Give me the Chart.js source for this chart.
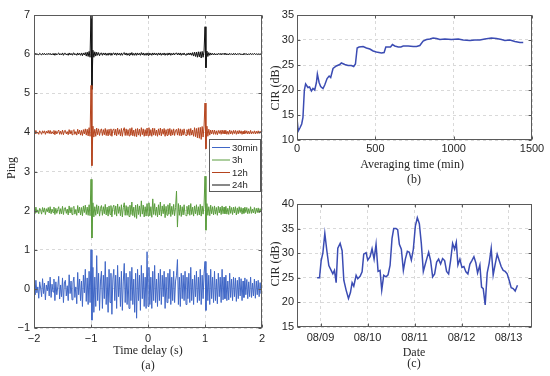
<!DOCTYPE html>
<html><head><meta charset="utf-8">
<script src="https://cdn.jsdelivr.net/npm/chart.js@4.4.0/dist/chart.umd.min.js"></script>
<style>html,body{margin:0;padding:0;background:#fff;width:550px;height:376px;overflow:hidden}
canvas{position:absolute;left:0;top:0}</style></head><body>
<canvas id="ca" width="550" height="376"></canvas>
<canvas id="cb" width="550" height="376"></canvas>
<canvas id="cc" width="550" height="376"></canvas>
<script>
// ---------- (a) received pings, offset per averaging time ----------
const seriesNames = ['30min', '3h', '12h', '24h'];
const seriesOffsets = [0, 2, 4, 6];
const sampleStart = -2, sampleStep = 4 / 240; // time delay (s) of first sample, sample spacing
const ping30min = [
0.08,-0.15,0.22,-0.1,0.05,-0.24,0.18,0.02,-0.2,0.26,-0.12,0.15,-0.28,0.1,-0.05,0.2,-0.18,0.3,-0.22,0.12,
-0.08,0.25,-0.3,0.18,-0.15,0.05,0.32,-0.26,0.1,-0.2,0.28,-0.35,0.15,0.22,-0.18,0.08,-0.3,0.36,-0.12,0.2,
-0.28,0.15,0.3,-0.22,0.05,-0.38,0.42,-0.15,0.25,-0.3,0.2,-0.45,0.35,-0.1,0.5,-0.32,0.28,-0.4,0.45,-0.35,
1.0,-0.8,0.55,-0.6,0.3,-0.45,0.85,-0.3,0.4,-0.55,0.2,0.45,-0.5,0.35,-0.25,0.7,-0.4,0.3,-0.6,0.5,
-0.35,0.4,-0.65,0.25,0.5,-0.3,0.35,-0.5,0.6,-0.2,0.3,-0.45,0.45,-0.55,0.2,0.65,-0.35,0.4,-0.4,0.3,
-0.5,0.45,-0.3,0.55,-0.4,0.25,-0.6,0.4,-0.75,0.5,-0.3,0.35,-0.55,0.6,-0.25,0.4,-0.45,0.3,-0.5,0.95,
-0.45,0.55,-0.4,0.3,-0.5,0.45,-0.3,0.6,-0.35,0.25,-0.45,0.4,-0.3,0.5,-0.4,0.35,-0.2,0.45,-0.5,0.3,
-0.35,0.4,-0.25,0.5,-0.4,0.3,-0.3,0.45,-0.35,0.2,0.35,0.75,-0.4,0.3,-0.45,0.4,-0.25,0.35,-0.3,0.45,
-0.4,0.3,-0.25,0.4,-0.35,0.55,-0.3,0.25,-0.4,0.35,-0.2,0.45,-0.35,0.3,-0.3,0.5,-0.4,0.35,-0.25,0.4,
0.7,-0.55,0.4,-0.3,0.35,-0.4,0.5,-0.25,0.3,-0.35,0.45,-0.3,0.25,-0.38,0.4,-0.2,0.3,-0.35,0.5,-0.28,
0.3,-0.25,0.35,-0.3,0.2,-0.28,0.4,-0.22,0.25,-0.3,0.3,-0.2,0.28,-0.32,0.22,-0.25,0.3,-0.18,0.26,-0.3,
0.2,-0.22,0.28,-0.15,0.24,-0.25,0.18,-0.2,0.3,-0.22,0.15,-0.18,0.25,-0.24,0.2,-0.15,0.22,-0.2,0.16,-0.12,0.05];
const ping3h = [
0.04,-0.07,0.09,-0.05,0.02,-0.08,0.06,0.01,-0.09,0.08,-0.04,0.07,-0.1,0.05,-0.03,0.08,-0.06,0.1,-0.08,0.04,
-0.05,0.09,-0.1,0.06,-0.07,0.03,0.1,-0.09,0.05,-0.08,0.11,-0.1,0.06,0.08,-0.07,0.04,-0.11,0.12,-0.06,0.08,
-0.1,0.07,0.11,-0.09,0.03,-0.12,0.13,-0.06,0.09,-0.11,0.08,-0.13,0.12,-0.05,0.14,-0.1,0.09,-0.12,0.15,-0.13,
0.8,-0.7,0.2,-0.16,0.1,-0.12,0.15,-0.08,0.12,-0.14,0.06,0.13,-0.12,0.1,-0.08,0.16,-0.11,0.09,-0.14,0.12,
-0.1,0.13,-0.16,0.08,0.14,-0.1,0.12,-0.14,0.17,-0.07,0.1,-0.13,0.15,-0.16,0.08,0.2,-0.12,0.13,-0.12,0.1,
-0.15,0.14,-0.1,0.22,-0.13,0.09,-0.17,0.14,-0.2,0.16,-0.1,0.12,-0.15,0.25,-0.09,0.14,-0.16,0.1,-0.14,0.18,
-0.14,0.2,-0.13,0.1,-0.17,0.3,-0.1,0.18,-0.12,0.09,-0.16,0.15,-0.11,0.22,-0.14,0.12,-0.08,0.16,-0.18,0.11,
-0.12,0.15,-0.09,0.19,-0.15,0.11,-0.1,0.16,-0.13,0.08,0.5,-0.42,0.18,-0.12,0.14,-0.15,0.1,-0.11,0.15,-0.1,
-0.13,0.11,-0.09,0.14,-0.12,0.18,-0.1,0.09,-0.14,0.12,-0.08,0.15,-0.12,0.1,-0.11,0.16,-0.14,0.12,-0.09,0.14,
0.88,-0.5,0.18,-0.12,0.1,-0.13,0.14,-0.08,0.1,-0.11,0.12,-0.09,0.08,-0.12,0.11,-0.06,0.09,-0.1,0.12,-0.08,
0.09,-0.08,0.11,-0.09,0.06,-0.1,0.12,-0.07,0.08,-0.1,0.09,-0.06,0.1,-0.11,0.07,-0.08,0.1,-0.05,0.08,-0.09,
0.06,-0.07,0.09,-0.05,0.08,-0.08,0.05,-0.07,0.1,-0.07,0.04,-0.06,0.08,-0.08,0.06,-0.05,0.07,-0.06,0.05,-0.04,0.02];
const ping12h = [
0.02,-0.04,0.05,-0.03,0.01,-0.05,0.04,0.0,-0.05,0.04,-0.02,0.04,-0.05,0.03,-0.02,0.05,-0.03,0.05,-0.04,0.02,
-0.03,0.05,-0.06,0.04,-0.04,0.02,0.06,-0.05,0.03,-0.05,0.06,-0.06,0.04,0.05,-0.04,0.02,-0.06,0.07,-0.04,0.05,
-0.06,0.04,0.07,-0.05,0.02,-0.07,0.08,-0.04,0.06,-0.07,0.05,-0.08,0.07,-0.04,0.09,-0.07,0.08,-0.09,0.12,-0.1,
1.2,-0.85,0.16,-0.12,0.08,-0.1,0.11,-0.06,0.09,-0.08,0.05,0.09,-0.08,0.07,-0.06,0.1,-0.08,0.07,-0.09,0.08,
-0.07,0.09,-0.1,0.06,0.09,-0.07,0.08,-0.09,0.11,-0.05,0.07,-0.09,0.1,-0.1,0.06,0.12,-0.08,0.09,-0.08,0.07,
-0.09,0.1,-0.07,0.12,-0.09,0.06,-0.1,0.09,-0.11,0.1,-0.07,0.08,-0.1,0.12,-0.06,0.09,-0.1,0.07,-0.09,0.11,
-0.09,0.12,-0.08,0.07,-0.1,0.11,-0.07,0.1,-0.08,0.06,-0.1,0.09,-0.07,0.11,-0.09,0.08,-0.05,0.1,-0.1,0.07,
-0.08,0.09,-0.06,0.1,-0.09,0.07,-0.07,0.09,-0.08,0.05,0.08,-0.07,0.1,-0.08,0.09,-0.09,0.07,-0.07,0.09,-0.06,
-0.08,0.07,-0.06,0.09,-0.08,0.1,-0.07,0.06,-0.1,0.12,-0.11,0.1,-0.14,0.12,-0.15,0.13,-0.18,0.15,-0.12,0.16,
0.75,-0.42,0.16,-0.1,0.08,-0.07,0.06,-0.04,0.06,-0.05,0.06,-0.05,0.04,-0.06,0.05,-0.03,0.05,-0.05,0.06,-0.04,
0.05,-0.04,0.05,-0.05,0.03,-0.05,0.06,-0.04,0.04,-0.05,0.05,-0.03,0.05,-0.05,0.04,-0.04,0.05,-0.03,0.04,-0.05,
0.03,-0.04,0.05,-0.03,0.04,-0.04,0.03,-0.04,0.05,-0.04,0.02,-0.03,0.04,-0.04,0.03,-0.03,0.04,-0.03,0.03,-0.02,0.01];
const ping24h = [
0.01,-0.02,0.02,-0.01,0.0,-0.02,0.02,0.0,-0.02,0.02,-0.01,0.02,-0.02,0.01,-0.01,0.02,-0.01,0.02,-0.02,0.01,
-0.01,0.02,-0.03,0.02,-0.02,0.01,0.03,-0.02,0.01,-0.02,0.03,-0.03,0.02,0.02,-0.02,0.01,-0.03,0.03,-0.02,0.02,
-0.02,0.02,0.03,-0.02,0.01,-0.03,0.03,-0.02,0.02,-0.03,0.03,-0.04,0.03,-0.02,0.04,-0.05,0.05,-0.06,0.07,-0.08,
1.05,-0.9,0.1,-0.08,0.06,-0.05,0.05,-0.03,0.04,-0.04,0.02,0.03,-0.03,0.03,-0.02,0.03,-0.03,0.02,-0.03,0.03,
-0.02,0.03,-0.03,0.02,0.03,-0.02,0.03,-0.03,0.03,-0.02,0.02,-0.03,0.03,-0.03,0.02,0.04,-0.02,0.03,-0.03,0.02,
-0.03,0.03,-0.02,0.04,-0.03,0.02,-0.03,0.03,-0.03,0.03,-0.02,0.02,-0.03,0.04,-0.02,0.03,-0.03,0.02,-0.03,0.03,
-0.03,0.03,-0.02,0.02,-0.03,0.03,-0.02,0.03,-0.02,0.02,-0.03,0.03,-0.02,0.03,-0.03,0.02,-0.02,0.03,-0.03,0.02,
-0.02,0.03,-0.02,0.03,-0.03,0.02,-0.02,0.03,-0.02,0.02,0.03,-0.02,0.03,-0.02,0.03,-0.03,0.02,-0.02,0.03,-0.02,
-0.02,0.02,-0.02,0.03,-0.02,0.03,-0.03,0.04,-0.05,0.05,-0.06,0.05,-0.08,0.06,-0.07,0.06,-0.1,0.07,-0.08,0.08,
0.7,-0.35,0.08,-0.06,0.04,-0.03,0.03,-0.02,0.02,-0.02,0.02,-0.02,0.01,-0.02,0.02,-0.01,0.02,-0.02,0.02,-0.01,
0.02,-0.01,0.02,-0.02,0.01,-0.02,0.02,-0.01,0.01,-0.02,0.02,-0.01,0.02,-0.02,0.01,-0.01,0.02,-0.01,0.01,-0.02,
0.01,-0.01,0.02,-0.01,0.01,-0.02,0.01,-0.01,0.02,-0.01,0.01,-0.01,0.02,-0.01,0.01,-0.01,0.01,-0.01,0.01,-0.01,0.0];
const seriesColors = ['#3f66c6', '#5b9d3e', '#b5441e', '#111111'];

// ---------- (b) CIR vs averaging time ----------
const avgTimeMin = [0,8,20,30,38,47,55,70,80,92,102,113,124,130,141,151,166,177,192,205,215,230,251,273,283,305,326,347,362,373,384,396,422,443,465,486,507,539,556,567,582,597,609,624,646,663,678,710,742,763,784,805,827,848,869,891,912,944,986,1029,1061,1104,1135,1167,1199,1241,1273,1305,1327,1359,1391,1423,1444];
const cirAvg = [14.3,11.8,12.5,13.2,14.5,20.0,21.2,20.5,20.6,19.8,20.3,20.0,21.5,23.2,21.5,20.7,20.3,21.0,22.3,22.8,22.5,24.3,24.8,25.1,25.4,25.1,24.9,24.9,24.7,25.2,28.4,28.6,28.7,28.4,28.2,27.8,27.6,27.4,27.5,28.6,28.6,28.6,29.1,28.8,28.6,28.6,28.8,28.8,28.7,28.7,28.9,29.8,30.1,30.2,30.4,30.3,30.1,30.2,30.1,30.2,30.0,29.9,30.0,30.0,30.2,30.4,30.3,30.1,29.9,30.0,29.7,29.5,29.5];

// ---------- (c) CIR vs date (day of August) ----------
const dateTickDays = [9, 10, 11, 12, 13];
const dateTickLabels = ['08/09', '08/10', '08/11', '08/12', '08/13'];
const dateDay = [8.929,8.979,9.014,9.050,9.092,9.135,9.177,9.227,9.262,9.297,9.333,9.368,9.418,9.460,9.496,9.545,9.595,9.637,9.673,9.708,9.758,9.793,9.842,9.885,9.920,9.970,10.005,10.055,10.097,10.140,10.182,10.225,10.267,10.303,10.345,10.395,10.437,10.480,10.522,10.558,10.607,10.642,10.678,10.720,10.763,10.805,10.848,10.890,10.933,10.975,11.018,11.060,11.103,11.145,11.188,11.230,11.265,11.301,11.343,11.386,11.428,11.471,11.513,11.556,11.598,11.641,11.683,11.726,11.768,11.811,11.853,11.889,11.924,11.966,12.009,12.051,12.094,12.136,12.179,12.221,12.264,12.306,12.342,12.391,12.427,12.462,12.504,12.547,12.589,12.632,12.674,12.717,12.759,12.802,12.844,12.887,12.929,12.972,13.014,13.057,13.099,13.142,13.191];
const cirDate = [25,25,28.5,30,34,30.5,27.5,26.5,25.8,26.5,24,31,32,30.5,24.5,22.5,20.8,22,24,23.3,25.5,24.8,25.3,26.2,29.8,30.1,28.6,29.3,30.9,28.8,31.8,26.3,26.5,22.5,25.5,25.2,25.6,27.5,33,35,35,34.8,31.8,30.8,26.5,28.8,30.4,30.2,28.6,30.8,35.5,37.2,36,32,26.3,27.8,29,30.2,28.5,25.2,25.8,28.2,28.8,27.8,28.9,28.5,26.3,25.8,28.5,32,30.8,32.2,27.6,28.8,27.1,27.3,26.2,25.8,27.8,28.5,29.3,28,26,27.6,23.1,22.8,19.5,26,28,31,25.6,27.8,29.8,28.5,27.3,26.5,26.3,25.8,24.5,23,22.8,22.3,23.5];

// ---------- shared styling ----------
const TXT = '#262626';
const tickFont = {family: '"Liberation Sans", Arial, sans-serif', size: 11};
const gridOpt = {color: '#d9d9d9', lineWidth: 1, drawTicks: false};
const borderOpt = {display: false, dash: [3, 3]};
const minusFmt = v => String(v).replace('-', '\u2212');
const plainFmt = v => String(v);

function framePlugin(titles, legend) {
  return {
    id: 'frame',
    afterDraw(chart) {
      const {ctx, chartArea: a, scales} = chart;
      ctx.save();
      ctx.strokeStyle = '#5a5a5a'; ctx.lineWidth = 1;
      const L = Math.round(a.left) + 0.5, T = Math.round(a.top) + 0.5;
      const R = Math.round(a.right) - 0.5, B = Math.round(a.bottom) - 0.5;
      ctx.strokeRect(L, T, R - L, B - T);
      const tl = 3;
      ctx.beginPath();
      scales.x.ticks.forEach(t => {
        const px = Math.round(scales.x.getPixelForValue(t.value)) + 0.5;
        ctx.moveTo(px, B); ctx.lineTo(px, B - tl);
        ctx.moveTo(px, T); ctx.lineTo(px, T + tl);
      });
      scales.y.ticks.forEach(t => {
        const py = Math.round(scales.y.getPixelForValue(t.value)) + 0.5;
        ctx.moveTo(L, py); ctx.lineTo(L + tl, py);
        ctx.moveTo(R, py); ctx.lineTo(R - tl, py);
      });
      ctx.stroke();
      ctx.fillStyle = TXT;
      ctx.font = '12px "Liberation Serif", "Times New Roman", serif';
      ctx.textAlign = 'center'; ctx.textBaseline = 'middle';
      titles.forEach(t => {
        if (t.rot) {
          ctx.save(); ctx.translate(t.x, t.y); ctx.rotate(-Math.PI / 2);
          ctx.fillText(t.text, 0, 0); ctx.restore();
        } else ctx.fillText(t.text, t.x, t.y);
      });
      if (legend) {
        const {x, y, w, h, rows} = legend;
        ctx.fillStyle = '#fff';
        ctx.fillRect(x, y, w, h);
        ctx.strokeStyle = '#5a5a5a';
        ctx.strokeRect(x + 0.5, y + 0.5, w, h);
        ctx.font = '9.5px "Liberation Sans", Arial, sans-serif';
        ctx.textAlign = 'left';
        chart.data.datasets.forEach((ds, i) => {
          const ry = rows[i];
          ctx.strokeStyle = ds.borderColor; ctx.lineWidth = 1;
          ctx.beginPath(); ctx.moveTo(x + 3, ry + 0.5); ctx.lineTo(x + 21, ry + 0.5); ctx.stroke();
          ctx.fillStyle = TXT;
          ctx.fillText(ds.label, x + 23, ry + 1);
        });
      }
      ctx.restore();
    }
  };
}

// ---------- chart (a) ----------
const pingSeries = [ping30min, ping3h, ping12h, ping24h];
new Chart(document.getElementById('ca'), {
  type: 'line',
  data: {
    datasets: pingSeries.map((s, k) => ({
      label: seriesNames[k],
      data: s.map((v, i) => ({x: sampleStart + i * sampleStep, y: v + seriesOffsets[k]})),
      borderColor: seriesColors[k], borderWidth: 1, pointRadius: 0, tension: 0
    }))
  },
  options: {
    responsive: false, animation: false, devicePixelRatio: 1,
    layout: {padding: {left: 0, right: 288, top: 15, bottom: 0}},
    plugins: {legend: {display: false}, tooltip: {enabled: false}},
    scales: {
      x: {type: 'linear', min: -2, max: 2,
        ticks: {stepSize: 1, color: TXT, font: tickFont, padding: 4, maxRotation: 0, callback: minusFmt},
        grid: gridOpt, border: borderOpt,
        afterFit: s => { s.height = 48; }},
      y: {type: 'linear', min: -1, max: 7,
        ticks: {stepSize: 1, color: TXT, font: tickFont, padding: 4, callback: minusFmt},
        grid: gridOpt, border: borderOpt,
        afterFit: s => { s.width = 34; }}
    }
  },
  plugins: [framePlugin([
    {text: 'Ping', x: 12, y: 168, rot: true},
    {text: 'Time delay (s)', x: 148, y: 351},
    {text: '(a)', x: 148, y: 366}
  ], {x: 209, y: 139, w: 51, h: 52, rows: [147, 159.5, 172, 184.5]})]
});

// ---------- chart (b) ----------
new Chart(document.getElementById('cb'), {
  type: 'line',
  data: {
    datasets: [{label: 'CIR', data: avgTimeMin.map((t, i) => ({x: t, y: cirAvg[i]})),
      borderColor: '#3b4cb3', borderWidth: 1.5, pointRadius: 0, tension: 0}]
  },
  options: {
    responsive: false, animation: false, devicePixelRatio: 1,
    layout: {padding: {left: 275, right: 18, top: 15, bottom: 186}},
    plugins: {legend: {display: false}, tooltip: {enabled: false}},
    scales: {
      x: {type: 'linear', min: 0, max: 1500,
        ticks: {stepSize: 500, color: TXT, font: tickFont, padding: 2, maxRotation: 0, callback: plainFmt},
        grid: gridOpt, border: borderOpt,
        afterFit: s => { s.height = 50; }},
      y: {type: 'linear', min: 10, max: 35,
        ticks: {stepSize: 5, color: TXT, font: tickFont, padding: 3, callback: plainFmt},
        grid: gridOpt, border: borderOpt,
        afterFit: s => { s.width = 22; }}
    }
  },
  plugins: [framePlugin([
    {text: 'CIR (dB)', x: 276, y: 88, rot: true},
    {text: 'Averaging time (min)', x: 412, y: 165},
    {text: '(b)', x: 414, y: 180}
  ])]
});

// ---------- chart (c) ----------
new Chart(document.getElementById('cc'), {
  type: 'line',
  data: {
    datasets: [{label: 'CIR', data: dateDay.map((d, i) => ({x: d, y: cirDate[i]})),
      borderColor: '#3b4cb3', borderWidth: 1.5, pointRadius: 0, tension: 0}]
  },
  options: {
    responsive: false, animation: false, devicePixelRatio: 1,
    layout: {padding: {left: 275, right: 18, top: 204, bottom: 0}},
    plugins: {legend: {display: false}, tooltip: {enabled: false}},
    scales: {
      x: {type: 'linear', min: 8.5, max: 13.5,
        afterBuildTicks: s => { s.ticks = dateTickDays.map(v => ({value: v})); },
        ticks: {color: TXT, font: tickFont, padding: 4, maxRotation: 0,
          callback: v => dateTickLabels[dateTickDays.indexOf(v)]},
        grid: gridOpt, border: borderOpt,
        afterFit: s => { s.height = 49; }},
      y: {type: 'linear', min: 15, max: 40,
        ticks: {stepSize: 5, color: TXT, font: tickFont, padding: 3, callback: plainFmt},
        grid: gridOpt, border: borderOpt,
        afterFit: s => { s.width = 22; }}
    }
  },
  plugins: [framePlugin([
    {text: 'CIR (dB)', x: 276, y: 264, rot: true},
    {text: 'Date', x: 414, y: 353},
    {text: '(c)', x: 414, y: 364}
  ])]
});
</script>
</body></html>
